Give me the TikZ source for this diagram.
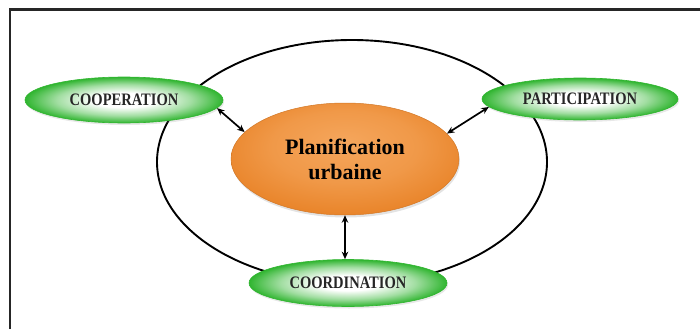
\documentclass[tikz,border=0pt]{standalone}
\usepackage{fontspec}
\setmainfont{Liberation Serif}
\newfontfamily\labelfont[FakeStretch=0.83]{Liberation Serif}
\usetikzlibrary{shapes.geometric,arrows.meta,shadows}

\definecolor{leafgreen}{HTML}{30B530}
\definecolor{orangein}{HTML}{F5A65C}
\definecolor{orangeout}{HTML}{E9852B}
\definecolor{labelink}{HTML}{262626}

% soft white core fading to green at the rim
\pgfdeclareradialshading{greenglow}{\pgfpoint{0bp}{0bp}}{%
  color(0bp)=(white); color(8bp)=(white);
  color(17bp)=(leafgreen!45!white);
  color(25bp)=(leafgreen); color(50bp)=(leafgreen)}
% orange disc, a little lighter towards the top
\pgfdeclareradialshading{orangeglow}{\pgfpoint{0bp}{8bp}}{%
  color(0bp)=(orangein); color(16bp)=(orangein!60!orangeout);
  color(28bp)=(orangeout); color(50bp)=(orangeout)}

\tikzset{
  actor/.style={ellipse, inner sep=0pt, shading=greenglow,
    draw=leafgreen, line width=0.6pt,
    drop shadow={opacity=0.18, shadow xshift=1pt, shadow yshift=-2pt},
    text=labelink, font=\labelfont\fontsize{17.5}{17.5}\selectfont\bfseries},
  core/.style={ellipse, inner sep=0pt, shading=orangeglow,
    draw=orangeout!90!black, line width=0.5pt,
    drop shadow={opacity=0.22, shadow xshift=1pt, shadow yshift=-2.5pt},
    align=center, text=black,
    font=\fontsize{22}{25}\selectfont\bfseries},
  ring/.style={ellipse, inner sep=0pt, draw=black, line width=1.9pt},
  link/.style={{Stealth[length=7.5pt,width=6.5pt]}-{Stealth[length=7.5pt,width=6.5pt]},
    line width=1.7pt, draw=black},
  frameline/.style={line width=2.4pt, draw=black!85}
}

\begin{document}
\begin{tikzpicture}[x=1pt, y=-1pt]
  \useasboundingbox (0,0) rectangle (700,329);

  % page frame (top and left edges)
  \draw[frameline] (10,329) -- (10,9.5) -- (700,9.5);

  % encircling loop
  \node[ring, minimum width=390pt, minimum height=244pt] (loop) at (352,162) {};

  % central theme
  \node[core, minimum width=228pt, minimum height=112pt] (plan) at (345,159)
    {Planification\\urbaine};

  % the three actors
  \node[actor, minimum width=198pt, minimum height=46pt] (coop) at (124,100) {COOPERATION};
  \node[actor, minimum width=196pt, minimum height=42pt] (part) at (580,99) {PARTICIPATION};
  \node[actor, minimum width=198pt, minimum height=47pt] (coord) at (348,283) {COORDINATION};

  % two-way links
  \draw[link] (plan.165) -- (coop.-5);
  \draw[link] (plan.14) -- (part.185);
  \draw[link] (plan.south) -- (plan.south |- coord.north);
\end{tikzpicture}
\end{document}
